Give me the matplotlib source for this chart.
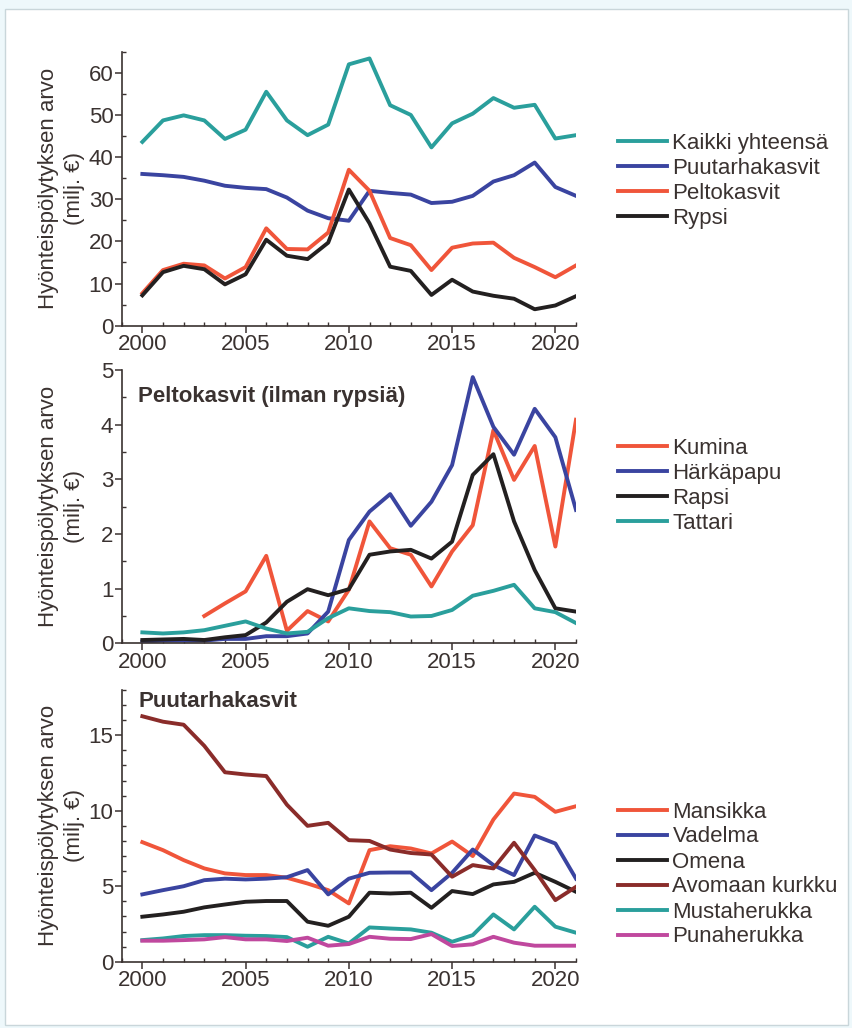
#!/usr/bin/env python3
import matplotlib
matplotlib.use("Agg")
import matplotlib.pyplot as plt
from matplotlib.patches import Rectangle
from matplotlib.ticker import MultipleLocator

plt.rcParams["font.family"] = ["Liberation Sans", "DejaVu Sans"]

years = list(range(2000, 2022))

# panel 1: totals
kaikki = [43.6, 48.7, 49.9, 48.7, 44.3, 46.5, 55.5, 48.7, 45.2, 47.7, 62.0,
          63.4, 52.3, 50.0, 42.3, 48.0, 50.3, 54.0, 51.7, 52.4, 44.4, 45.2]
puutarha = [36.0, 35.7, 35.3, 34.4, 33.2, 32.7, 32.4, 30.4, 27.3, 25.5, 24.9,
            32.0, 31.5, 31.1, 29.1, 29.4, 30.8, 34.2, 35.7, 38.7, 32.9, 30.8]
pelto = [7.7, 13.2, 14.7, 14.3, 11.2, 13.9, 23.1, 18.2, 18.1, 22.1, 37.0,
         32.0, 20.8, 19.1, 13.2, 18.5, 19.5, 19.7, 16.1, 13.9, 11.5, 14.3]
rypsi = [7.2, 12.7, 14.2, 13.4, 9.8, 12.2, 20.4, 16.6, 15.8, 19.7, 32.3,
         24.3, 14.0, 13.0, 7.3, 10.9, 8.1, 7.1, 6.4, 3.9, 4.8, 7.0]

# panel 2: field crops without turnip rape
kumina_years = list(range(2003, 2022))
kumina = [0.50, 0.73, 0.95, 1.60, 0.23, 0.59, 0.40, 0.98, 2.23, 1.74, 1.62,
          1.04, 1.68, 2.16, 3.90, 2.99, 3.61, 1.77, 4.09]
harkapapu = [0.03, 0.05, 0.05, 0.05, 0.08, 0.08, 0.13, 0.13, 0.18, 0.58, 1.89,
             2.41, 2.73, 2.15, 2.59, 3.26, 4.87, 3.96, 3.45, 4.29, 3.77, 2.44]
rapsi = [0.06, 0.07, 0.08, 0.06, 0.11, 0.15, 0.38, 0.76, 0.99, 0.88, 0.99,
         1.62, 1.68, 1.71, 1.55, 1.86, 3.08, 3.46, 2.23, 1.34, 0.64, 0.58]
tattari = [0.20, 0.18, 0.20, 0.24, 0.32, 0.40, 0.27, 0.18, 0.21, 0.46, 0.64,
           0.59, 0.57, 0.49, 0.50, 0.61, 0.87, 0.96, 1.07, 0.64, 0.57, 0.37]

# panel 3: horticulture
mansikka = [7.92, 7.39, 6.73, 6.18, 5.85, 5.74, 5.74, 5.56, 5.18, 4.74, 3.86,
            7.39, 7.65, 7.50, 7.17, 7.96, 7.00, 9.42, 11.14, 10.92, 9.93, 10.3]
vadelma = [4.46, 4.74, 5.00, 5.40, 5.50, 5.45, 5.50, 5.60, 6.07, 4.46, 5.50,
           5.89, 5.91, 5.91, 4.74, 5.89, 7.43, 6.40, 5.74, 8.36, 7.83, 5.50]
omena = [2.98, 3.13, 3.31, 3.60, 3.79, 3.97, 4.02, 4.02, 2.65, 2.38, 2.98,
         4.57, 4.52, 4.57, 3.57, 4.68, 4.48, 5.12, 5.29, 5.89, 5.29, 4.63]
kurkku = [16.26, 15.9, 15.7, 14.3, 12.55, 12.4, 12.3, 10.4, 9.0, 9.2, 8.05,
          8.0, 7.43, 7.2, 7.1, 5.63, 6.4, 6.18, 7.88, 6.07, 4.08, 4.96]
mustaherukka = [1.43, 1.54, 1.70, 1.76, 1.76, 1.72, 1.70, 1.63, 0.99, 1.65, 1.21,
                2.27, 2.20, 2.14, 1.92, 1.32, 1.76, 3.13, 2.14, 3.64, 2.32, 1.92]
punaherukka = [1.39, 1.39, 1.43, 1.48, 1.63, 1.48, 1.48, 1.37, 1.59, 1.06, 1.17,
               1.65, 1.52, 1.50, 1.83, 1.04, 1.15, 1.65, 1.26, 1.06, 1.06, 1.06]

TEAL = "#2a9f9c"
BLUE = "#3a44a0"
RED = "#f0553a"
BLACK = "#232020"
DARKRED = "#8a2c2a"
MAGENTA = "#c0489e"
TEXT = "#3a3230"
LW = 2.8
FS = 16

ylabel = "Hyönteispölytyksen arvo\n(milj. €)"


def style_axis(ax, ymax, ymajor, yminor):
    ax.set_xlim(1999, 2021)
    ax.set_ylim(0, ymax)
    ax.xaxis.set_major_locator(MultipleLocator(5))
    ax.xaxis.set_minor_locator(MultipleLocator(1))
    ax.yaxis.set_major_locator(MultipleLocator(ymajor))
    ax.yaxis.set_minor_locator(MultipleLocator(yminor))
    for side in ("top", "right"):
        ax.spines[side].set_visible(False)
    for side in ("left", "bottom"):
        ax.spines[side].set_color(TEXT)
        ax.spines[side].set_linewidth(1.2)
    ax.tick_params(which="major", direction="out", length=5, width=1.1,
                   colors=TEXT, labelsize=FS, pad=1)
    ax.tick_params(which="minor", direction="in", length=3, width=1.0, colors=TEXT)
    ax.set_ylabel(ylabel, fontsize=FS, color=TEXT, linespacing=1.35)
    ax.yaxis.set_label_coords(-0.08, 0.5)


def add_legend(ax, fig, y_center):
    leg = ax.legend(loc="center left", bbox_to_anchor=(618 / 852, 1 - y_center / 1028),
                    bbox_transform=fig.transFigure, frameon=False, fontsize=FS,
                    handlelength=2.2, handletextpad=0.25, labelspacing=0.18,
                    borderpad=0, borderaxespad=0)
    for t in leg.get_texts():
        t.set_color(TEXT)


fig = plt.figure(figsize=(8.52, 10.28), dpi=100, facecolor="#eef8fb")
fig.patches.append(Rectangle((5 / 852, 3 / 1028), 843 / 852, 1016 / 1028,
                             transform=fig.transFigure, facecolor="white",
                             edgecolor="#c9d6da", linewidth=1.0, zorder=-1))

left, width = 121.7 / 852, (576 - 121.7) / 852
ax1 = fig.add_axes([left, 1 - 325.7 / 1028, width, (325.7 - 51.7) / 1028])
ax2 = fig.add_axes([left, 1 - 643.3 / 1028, width, (643.3 - 370) / 1028])
ax3 = fig.add_axes([left, 1 - 961.7 / 1028, width, (961.7 - 690) / 1028])
for ax in (ax1, ax2, ax3):
    ax.patch.set_alpha(0)

ax1.plot(years, kaikki, color=TEAL, lw=LW, label="Kaikki yhteensä")
ax1.plot(years, puutarha, color=BLUE, lw=LW, label="Puutarhakasvit")
ax1.plot(years, pelto, color=RED, lw=LW, label="Peltokasvit")
ax1.plot(years, rypsi, color=BLACK, lw=LW, label="Rypsi")
style_axis(ax1, 65, 10, 5)
add_legend(ax1, fig, 181)

ax2.plot(kumina_years, kumina, color=RED, lw=LW, label="Kumina")
ax2.plot(years, harkapapu, color=BLUE, lw=LW, label="Härkäpapu")
ax2.plot(years, rapsi, color=BLACK, lw=LW, label="Rapsi")
ax2.plot(years, tattari, color=TEAL, lw=LW, label="Tattari")
style_axis(ax2, 5, 1, 0.5)
ax2.text(0.036, 0.94, "Peltokasvit (ilman rypsiä)", transform=ax2.transAxes,
         fontsize=FS, fontweight="bold", color=TEXT, va="top")
add_legend(ax2, fig, 486)

ax3.plot(years, mansikka, color=RED, lw=LW, label="Mansikka")
ax3.plot(years, vadelma, color=BLUE, lw=LW, label="Vadelma")
ax3.plot(years, omena, color=BLACK, lw=LW, label="Omena")
ax3.plot(years, kurkku, color=DARKRED, lw=LW, label="Avomaan kurkku")
ax3.plot(years, mustaherukka, color=TEAL, lw=LW, label="Mustaherukka")
ax3.plot(years, punaherukka, color=MAGENTA, lw=LW, label="Punaherukka")
style_axis(ax3, 18, 5, 1)
ax3.text(0.036, 0.995, "Puutarhakasvit", transform=ax3.transAxes,
         fontsize=FS, fontweight="bold", color=TEXT, va="top")
add_legend(ax3, fig, 874.5)

fig.savefig("out.png", dpi=100, facecolor=fig.get_facecolor())
